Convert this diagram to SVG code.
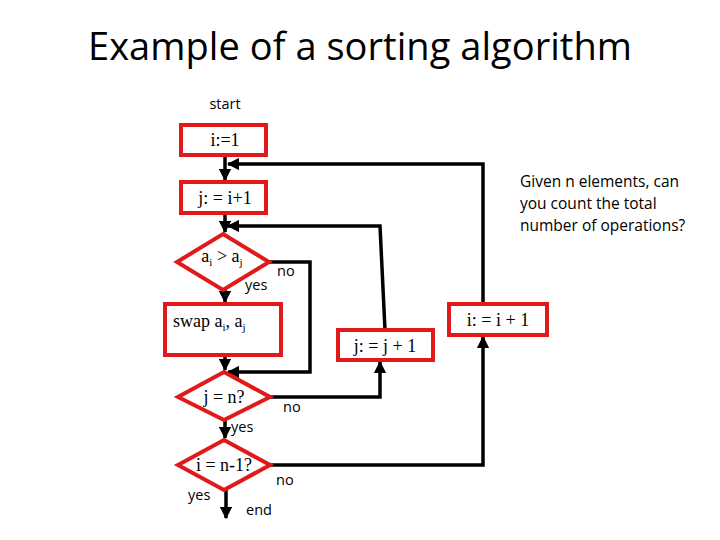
<svg xmlns="http://www.w3.org/2000/svg" width="720" height="540" viewBox="0 0 720 540">
<style>
.n{fill:#fff;stroke:#e01a1a;stroke-width:4}
.c{fill:none;stroke:#000;stroke-width:3.5}
.s{font-family:"Liberation Serif",serif;font-size:18px;fill:#000}
.t{font-family:"Open Sans","Liberation Sans",sans-serif;font-size:14.5px;fill:#000}
.g{font-family:"Open Sans","Liberation Sans",sans-serif;font-size:15.5px;fill:#000}
</style>
<defs><marker id="a" viewBox="0 0 10 10" refX="9" refY="5" markerWidth="3.5" markerHeight="3.5" orient="auto"><path d="M0,0L10,5L0,10z" fill="#000"/></marker></defs>
<rect width="720" height="540" fill="#fff"/>
<text x="360" y="60" text-anchor="middle" font-family="Open Sans,Liberation Sans,sans-serif" font-size="38" textLength="544">Example of a sorting algorithm</text>
<text class="t" x="225" y="109" text-anchor="middle">start</text>
<g id="connectors">
<path class="c" d="M225,155V180" marker-end="url(#a)"/>
<path class="c" d="M483,304V164H228" marker-end="url(#a)"/>
<path class="c" d="M225,213V232" marker-end="url(#a)"/>
<path class="c" d="M385,330L380,226H228" marker-end="url(#a)"/>
<path class="c" d="M225,290V302" marker-end="url(#a)"/>
<path class="c" d="M269,262H310V372H228" marker-end="url(#a)"/>
<path class="c" d="M225,355V370" marker-end="url(#a)"/>
<path class="c" d="M270,397H380V362" marker-end="url(#a)"/>
<path class="c" d="M225,420V438" marker-end="url(#a)"/>
<path class="c" d="M270,465H483V337" marker-end="url(#a)"/>
<path class="c" d="M226,490V518" marker-end="url(#a)"/>
</g>
<g id="n1"><rect class="n" x="181" y="125" width="85" height="30"/><text class="s" x="225" y="146" text-anchor="middle">i:=1</text></g>
<g id="n2"><rect class="n" x="181" y="182" width="85" height="31"/><text class="s" x="225" y="204" text-anchor="middle">j: = i+1</text></g>
<g id="d1"><path class="n" d="M223,234L269,262L223,290L177,262Z"/><text class="s" x="222" y="262" text-anchor="middle">a<tspan font-size="11" dy="4">i</tspan><tspan dy="-4"> &gt; a</tspan><tspan font-size="11" dy="4">j</tspan></text></g>
<g id="n3"><rect class="n" x="165" y="304" width="116" height="51"/><text class="s" x="173" y="327">swap a<tspan font-size="11" dy="4">i</tspan><tspan dy="-4">, a</tspan><tspan font-size="11" dy="4">j</tspan></text></g>
<g id="n4"><rect class="n" x="338" y="330" width="95" height="30"/><text class="s" x="385" y="352" text-anchor="middle">j: = j + 1</text></g>
<g id="n5"><rect class="n" x="449" y="304" width="98" height="31"/><text class="s" x="498" y="326" text-anchor="middle">i: = i + 1</text></g>
<g id="d2"><path class="n" d="M224,372L270,397L224,420L178,397Z"/><text class="s" x="224" y="403" text-anchor="middle">j = n?</text></g>
<g id="d3"><path class="n" d="M224,440L270,465L224,490L178,465Z"/><text class="s" x="224" y="471" text-anchor="middle">i = n-1?</text></g>
<g class="t">
<text x="245" y="290">yes</text><text x="277" y="276">no</text>
<text x="283" y="412">no</text><text x="231" y="432">yes</text>
<text x="276" y="485">no</text><text x="188" y="500">yes</text><text x="246" y="515">end</text>
</g>
<g class="g">
<text x="520" y="187">Given n elements, can</text>
<text x="520" y="209">you count the total</text>
<text x="520" y="231">number of operations?</text>
</g>
</svg>
